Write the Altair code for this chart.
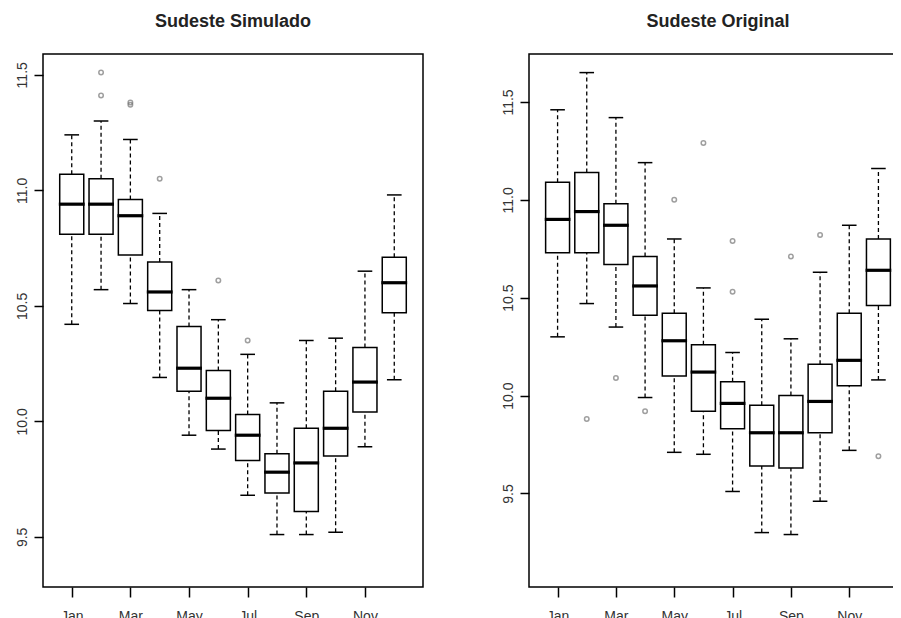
import altair as alt
import pandas as pd

months = ["Jan", "Feb", "Mar", "Apr", "May", "Jun", "Jul", "Aug", "Sep", "Oct", "Nov", "Dec"]
shown_labels = ["Jan", "", "Mar", "", "May", "", "Jul", "", "Sep", "", "Nov", ""]

# Sudeste Simulado
sim_lo = [10.42, 10.57, 10.51, 10.19, 9.94, 9.88, 9.68, 9.51, 9.51, 9.52, 9.89, 10.18]
sim_q1 = [10.81, 10.81, 10.72, 10.48, 10.13, 9.96, 9.83, 9.69, 9.61, 9.85, 10.04, 10.47]
sim_med = [10.94, 10.94, 10.89, 10.56, 10.23, 10.10, 9.94, 9.78, 9.82, 9.97, 10.17, 10.60]
sim_q3 = [11.07, 11.05, 10.96, 10.69, 10.41, 10.22, 10.03, 9.86, 9.97, 10.13, 10.32, 10.71]
sim_hi = [11.24, 11.30, 11.22, 10.90, 10.57, 10.44, 10.29, 10.08, 10.35, 10.36, 10.65, 10.98]
sim_out_month = [2, 2, 3, 3, 4, 6, 7]
sim_out_value = [11.51, 11.41, 11.38, 11.37, 11.05, 10.61, 10.35]

# Sudeste Original
org_lo = [10.30, 10.47, 10.35, 9.99, 9.71, 9.70, 9.51, 9.30, 9.29, 9.46, 9.72, 10.08]
org_q1 = [10.73, 10.73, 10.67, 10.41, 10.10, 9.92, 9.83, 9.64, 9.63, 9.81, 10.05, 10.46]
org_med = [10.90, 10.94, 10.87, 10.56, 10.28, 10.12, 9.96, 9.81, 9.81, 9.97, 10.18, 10.64]
org_q3 = [11.09, 11.14, 10.98, 10.71, 10.42, 10.26, 10.07, 9.95, 10.00, 10.16, 10.42, 10.80]
org_hi = [11.46, 11.65, 11.42, 11.19, 10.80, 10.55, 10.22, 10.39, 10.29, 10.63, 10.87, 11.16]
org_out_month = [2, 3, 4, 5, 6, 7, 7, 9, 10, 12]
org_out_value = [9.88, 10.09, 9.92, 11.00, 11.29, 10.79, 10.53, 10.71, 10.82, 9.69]

y_ticks = [9.5, 10.0, 10.5, 11.0, 11.5]

label_expr = "[" + ",".join("'" + m + "'" for m in shown_labels) + "][datum.value - 1]"


def panel(title, lo, q1, med, q3, hi, out_m, out_v, ydom, width):
    box = pd.DataFrame({"m": list(range(1, 13)), "month": months,
                        "lo": lo, "q1": q1, "med": med, "q3": q3, "hi": hi})
    outs = pd.DataFrame({"m": out_m, "v": out_v})

    xs = alt.Scale(domain=[0.02, 12.98], nice=False, zero=False)
    ys = alt.Scale(domain=ydom, nice=False, zero=False)
    xaxis = alt.Axis(values=list(range(1, 13)), labelExpr=label_expr, title=None,
                     grid=False, domain=False, tickSize=10, tickColor="black",
                     tickWidth=1.5, labelFontSize=14, labelFont="Liberation Sans",
                     labelColor="#333", labelPadding=12, labelBaseline="top",
                     labelFlush=False, labelOverlap=False)
    yaxis = alt.Axis(values=y_ticks, format=".1f", title=None, grid=False, domain=False,
                     tickSize=9, tickColor="black", tickWidth=1.5, labelAngle=270,
                     labelAlign="center", labelBaseline="alphabetic", labelPadding=8,
                     labelFontSize=14, labelFont="Liberation Sans", labelColor="#333",
                     labelFlush=False, labelOverlap=False)

    base = alt.Chart(box).transform_calculate(
        bl="datum.m - 0.41", br="datum.m + 0.41",
        cl="datum.m - 0.25", cr="datum.m + 0.25",
        ml="datum.m - 0.44", mr="datum.m + 0.44")

    whisk_hi = base.mark_rule(color="black", strokeWidth=1.3, strokeDash=[4, 3]).encode(
        x=alt.X("m:Q", scale=xs, axis=xaxis),
        y=alt.Y("q3:Q", scale=ys, axis=yaxis), y2="hi:Q")
    whisk_lo = base.mark_rule(color="black", strokeWidth=1.3, strokeDash=[4, 3]).encode(
        x="m:Q", y="lo:Q", y2="q1:Q")
    cap_hi = base.mark_rule(color="black", strokeWidth=1.5).encode(
        x="cl:Q", x2="cr:Q", y="hi:Q")
    cap_lo = base.mark_rule(color="black", strokeWidth=1.5).encode(
        x="cl:Q", x2="cr:Q", y="lo:Q")
    rect = base.mark_rect(fill="white", stroke="black", strokeWidth=1.5).encode(
        x="bl:Q", x2="br:Q", y="q1:Q", y2="q3:Q")
    median = base.mark_rule(color="black", strokeWidth=3.2).encode(
        x="ml:Q", x2="mr:Q", y="med:Q")
    points = alt.Chart(outs).mark_point(shape="circle", filled=False, color="#777",
                                        strokeWidth=1.5, size=20).encode(
        x="m:Q", y="v:Q")

    return alt.layer(whisk_hi, whisk_lo, cap_hi, cap_lo, rect, median, points).properties(
        width=width, height=533,
        title=alt.TitleParams(title, fontSize=18, font="Liberation Sans", fontWeight="bold",
                              color="#222", offset=9, anchor="middle",
                              baseline="alphabetic"))


left = panel("Sudeste Simulado", sim_lo, sim_q1, sim_med, sim_q3, sim_hi,
             sim_out_month, sim_out_value, [9.283, 11.59], 380)
right = panel("Sudeste Original", org_lo, org_q1, org_med, org_q3, org_hi,
              org_out_month, org_out_value, [9.022, 11.745], 378)

chart = alt.hconcat(left, right, spacing=106, bounds="flush").properties(
    autosize=alt.AutoSizeParams(type="none"),
    padding={"left": 35, "top": 46, "right": 850, "bottom": 552},
    background="white"
).configure_view(stroke="black", strokeWidth=1.5)

chart.save("out.html", embed_options={"renderer": "svg", "actions": False})
